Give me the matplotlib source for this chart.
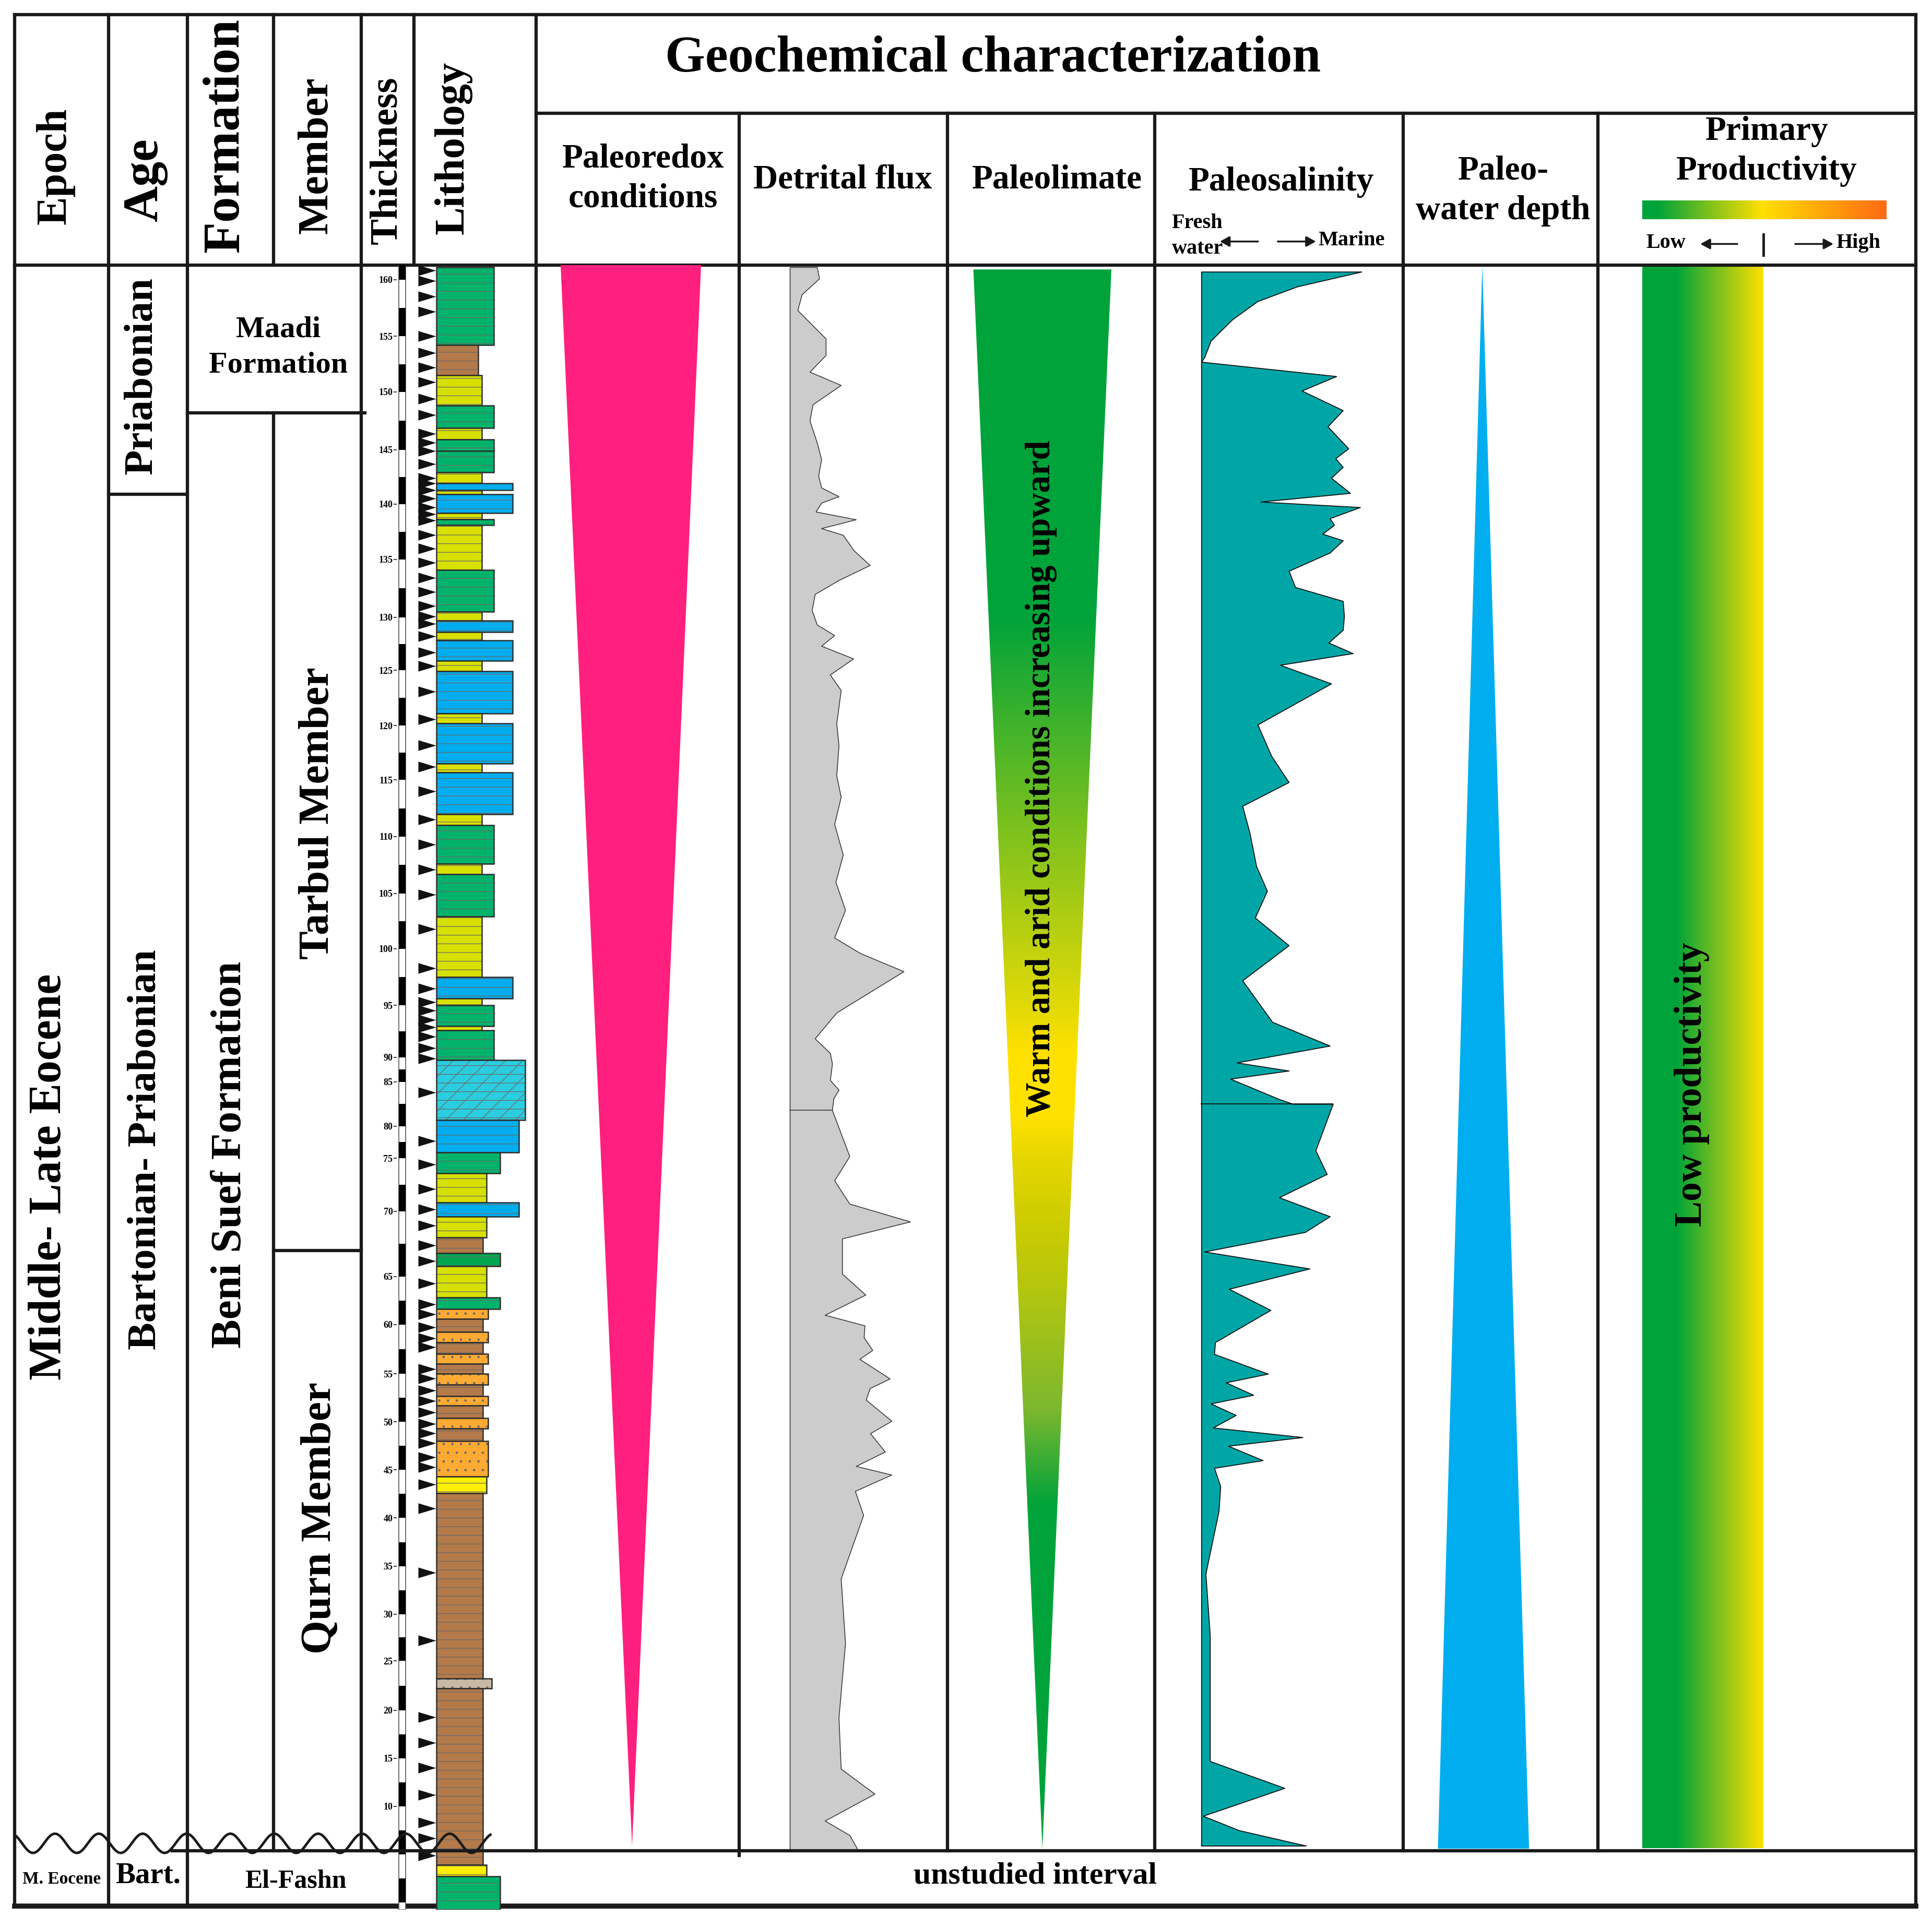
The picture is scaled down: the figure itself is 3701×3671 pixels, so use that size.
import numpy as np
import matplotlib
matplotlib.use('Agg')
import matplotlib.pyplot as plt
from matplotlib.colors import LinearSegmentedColormap
from matplotlib.patches import Polygon, Rectangle
from matplotlib.ticker import NullLocator

plt.rcParams['font.family'] = ['Liberation Serif', 'DejaVu Serif']
plt.rcParams['font.weight'] = 'bold'
plt.rcParams['hatch.linewidth'] = 0.9

# thickness scale of the log (m) and where it sits on the sheet (sheet units)
scale_depth = [-0.8, 0, 5, 10, 15, 20, 25, 30, 35, 40, 45, 50, 55, 60, 65, 70, 75, 80,
               85, 90, 95, 100, 105, 110, 115, 120, 125, 130, 135, 140, 145, 150, 155,
               160, 161.3]
scale_y = [1550, 1544, 1505, 1466, 1427, 1388, 1348, 1310, 1271, 1232, 1193, 1154, 1115,
           1075, 1036, 983, 940, 914, 878, 858, 816, 770, 725, 679, 633, 589, 544, 501,
           454, 409, 365, 318, 273, 227, 215]
tick_depth = list(range(10, 161, 5))

# lithology beds (m)
bed_top = [161.1, 154.2, 151.5, 148.8, 146.9, 145.9, 144.9, 142.9, 141.9, 141.3, 140.9,
           139.2, 138.6, 138.1, 134.1, 130.5, 129.7, 128.6, 127.8, 125.9, 124.9, 121.1,
           120.2, 116.5, 115.7, 112.0, 111.0, 107.6, 106.7, 102.9, 97.5, 95.6, 95.0, 93.0,
           92.6, 89.4, 80.7, 75.9, 73.6, 70.8, 69.6, 68.0, 66.8, 65.8, 62.8, 61.6, 60.6,
           59.25, 58.2, 57.0, 56.0, 55.0, 53.9, 52.7, 51.7, 50.4, 49.3, 48.0, 44.3, 42.6,
           23.2, 22.2, 3.9, 2.7]
bed_base = bed_top[1:] + [-0.8]
bed_litho = ['lst', 'sh', 'marl', 'lst', 'marl', 'lst', 'lst', 'marl', 'blst', 'marl',
             'blst', 'marl', 'lst', 'marl', 'lst', 'marl', 'blst', 'marl', 'blst', 'marl',
             'blst', 'marl', 'blst', 'marl', 'blst', 'marl', 'lst', 'marl', 'lst', 'marl',
             'blst', 'marl', 'lst', 'marl', 'lst', 'dol', 'blst', 'lst', 'marl', 'blst',
             'marl', 'sh', 'dlst', 'marl', 'lst', 'ss', 'sh', 'ss', 'sh', 'ss', 'sh', 'ss',
             'sh', 'ss', 'sh', 'ss', 'sh', 'ss', 'ymarl', 'sh', 'gyp', 'sh', 'ymarl', 'lst']
bed_width = [47, 34, 37, 47, 37, 47, 47, 37, 62, 37, 62, 37, 47, 37, 47, 37, 62, 37, 62, 37,
             62, 37, 62, 37, 62, 37, 47, 37, 47, 37, 62, 37, 47, 37, 47,
             72, 67, 52, 41, 67, 41, 38, 52, 41, 52, 42, 38, 42, 38, 42, 38, 42, 38, 42,
             38, 42, 38, 42, 41, 38, 45, 38, 41, 52]

sample_depth = [160.8, 159.9, 158.5, 157.2, 155.0, 153.5, 152.2, 150.9, 149.4, 148.0, 146.4,
                145.6, 144.9, 143.7, 142.4, 141.9, 141.3, 140.5, 139.7, 139.1, 138.5, 137.2,
                136.0, 134.7, 133.4, 132.2, 131.0, 130.1, 129.4, 128.2, 126.7, 125.4, 123.1,
                120.6, 118.2, 116.2, 114.0, 111.5, 109.3, 107.1, 104.9, 101.8, 98.3, 96.5,
                95.3, 94.5, 93.6, 92.9, 92.0, 90.9, 89.75, 83.8, 77.7, 74.4, 72.1, 70.2,
                68.9, 67.4, 66.2, 64.3, 62.1, 61.1, 59.75, 58.6, 57.7, 55.5, 54.5, 53.3,
                52.2, 51.0, 49.8, 48.8, 47.8, 46.3, 45.3, 43.5, 41.0, 34.3, 27.2, 19.3,
                16.6, 14.0, 11.2, 8.3, 6.7, 4.9]

# detrital flux profile (relative index)
det_depth = [161.1, 160.1, 158.7, 157.3, 154.8, 153.3, 151.8, 150.6, 148.9, 147.5, 145.6,
             144.1, 142.6, 141.5, 140.7, 140.1, 139.3, 138.6, 137.8, 137.2, 135.8, 134.5,
             133.2, 132.0, 130.6, 129.3, 128.3, 127.3, 126.1, 124.6, 123.2, 120.2, 118.2,
             115.4, 113.5, 111.1, 108.4, 106.0, 103.5, 101.0, 99.6, 98.0, 94.3, 91.8, 90.4,
             88.7, 85.35, 84.1, 83.1, 81.8,
             75.3, 72.9, 70.7, 69.2, 67.9, 65.2, 63.1, 61.0, 59.9, 58.7, 57.4, 56.5, 54.5,
             53.5, 52.3, 50.1, 48.8, 46.9, 45.4, 44.5, 42.8, 40.3, 33.7, 26.9, 19.2, 13.9,
             11.3, 8.5, 7.0, 5.4]
det_value = [22.1, 23.9, 9.8, 6.3, 29.2, 29.2, 16.2, 41.5, 18.6, 16.2, 22.1, 25.6, 23.2,
             25.6, 39.7, 25.6, 21.1, 53.7, 25.6, 43.2, 52.0, 65.0, 39.7, 20.4, 17.9, 22.1,
             36.2, 25.6, 51.6, 32.7, 41.5, 37.9, 39.7, 37.9, 41.5, 36.2, 43.2, 37.2, 45.0,
             36.2, 57.3, 92.4, 37.9, 20.4, 32.7, 34.4, 32.7, 39.7, 35.5, 34.4,
             48.5, 36.2, 48.5, 97.7, 42.5, 42.5, 61.5, 28.5, 60.8, 60.1, 67.1, 56.6, 81.2,
             65.0, 61.8, 82.6, 65.3, 77.3, 53.7, 82.6, 53.0, 59.7, 41.5, 45.0, 39.7, 41.5,
             68.9, 28.5, 48.5, 55.5]
det_break = 81.8

# paleosalinity profile (relative index, fresh water -> marine)
sal_depth = [160.7, 159.4, 158.1, 156.5, 154.6, 153.1, 152.7, 151.4, 150.1, 148.4, 147.0,
             145.1, 144.2, 143.4, 142.4, 141.0, 140.2, 139.7, 138.7, 138.1, 137.3, 136.7,
             135.6, 134.0, 132.6, 131.4, 130.1, 128.8, 127.6, 126.6, 125.5, 123.8, 120.1,
             117.2, 114.8, 112.7, 110.3, 107.4, 105.2, 102.8, 100.3, 97.2, 93.4, 91.1, 88.9,
             87.25, 85.6, 83.0, 82.5,
             82.5, 76.2, 73.5, 71.3, 69.6, 68.4, 66.9, 65.6, 63.7, 61.5, 58.2, 57.0, 55.0,
             54.1, 52.8, 51.9, 50.7, 49.4, 48.4, 47.5, 46.0, 45.2, 43.3, 40.7, 34.2, 27.7,
             14.7, 11.9, 9.0, 7.5, 5.9]
sal_value = [130.0, 78.0, 45.7, 25.3, 7.7, 2.5, 0.0, 109.6, 81.5, 114.9, 102.6, 119.4, 108.9,
             114.9, 105.4, 120.8, 48.1, 128.9, 104.3, 107.8, 98.4, 114.9, 104.3, 71.0, 76.2,
             114.9, 115.9, 114.9, 103.3, 123.0, 63.9, 105.4, 45.7, 56.9, 71.0, 33.4, 39.3,
             44.6, 53.4, 43.6, 71.0, 33.4, 57.6, 104.3, 28.8, 71.0, 23.5, 63.9, 74.5,
             106.8, 92.7, 101.9, 63.2, 104.3, 84.3, 2.5, 87.8, 22.5, 56.2, 11.2, 10.5, 54.1,
             20.0, 42.2, 7.7, 28.1, 9.5, 82.2, 21.8, 49.9, 10.5, 15.5, 14.1, 3.5, 7.0, 7.0,
             67.5, 1.4, 30.6, 85.0]
sal_break = 82.5

# paleoclimate colour stops along the section (m)
clim_depth = [5, 41.3, 51.3, 69.3, 81.0, 90.3, 130.0, 161.3]
clim_rgb = [(0, 163, 58), (0, 163, 58), (125, 184, 46), (205, 205, 0), (255, 225, 0),
            (255, 225, 0), (0, 163, 58), (0, 163, 58)]

litho_style = {
    'lst': ('#00B36B', '-'), 'dlst': ('#00A651', '-'), 'blst': ('#00AEEF', '-'),
    'marl': ('#D8E000', '-'), 'ymarl': ('#FFEF00', '-'), 'sh': ('#B47A4A', '-'),
    'dol': ('#2BCDE0', '/-'), 'ss': ('#FFAA33', '.'), 'gyp': ('#C8B9A5', '.'),
}


def to_sheet(d):
    return -np.interp(d, scale_depth, scale_y)


def from_sheet(t):
    return np.interp(-np.asarray(t), scale_y[::-1], scale_depth[::-1])


W, H = 1568, 1555
fig = plt.figure(figsize=(37.01, 36.71), dpi=100)
ax = fig.add_axes([0, 0, 1, 1])
ax.set_xlim(0, W)
ax.set_ylim(H, 0)
ax.axis('off')

ax_d = fig.add_axes([0, (H - 1550) / H, 1, (1550 - 215) / H])
ax_d.patch.set_visible(False)
ax_d.set_yscale('function', functions=(to_sheet, from_sheet))
for s in ax_d.spines.values():
    s.set_visible(False)
ax_d.spines['left'].set_position(('data', 322))
ax_d.set_xticks([])

# frame
lw = 4.5
for y, x0, x1 in [(12, 12, 1555), (215, 12, 1555), (92, 435, 1555), (401, 88, 152),
                  (335, 152, 296), (1015, 222, 293)]:
    ax.plot([x0, x1], [y, y], color='#1a1a1a', lw=lw, solid_capstyle='projecting')
ax.plot([12, 1555], [1547, 1547], color='#1a1a1a', lw=7, solid_capstyle='projecting')
for x, y0, y1 in [(12, 12, 1547), (88, 12, 1547), (152, 12, 1547), (222, 12, 215),
                  (222, 335, 1502), (293, 12, 1502), (336, 12, 215), (435, 12, 1502),
                  (600, 92, 1506), (769, 92, 1502), (937, 92, 1502), (1139, 92, 1502),
                  (1297, 92, 1502), (1555, 12, 1547)]:
    ax.plot([x, x], [y0, y1], color='#1a1a1a', lw=lw, solid_capstyle='projecting')

txt = dict(ha='center', va='center', fontweight='bold', color='black')
ax.text(806, 48, 'Geochemical characterization', fontsize=71, **txt)
for x, y, s, fs in [(45, 135, 'Epoch', 59), (118, 146, 'Age', 69), (183, 110, 'Formation', 71),
                    (257, 126, 'Member', 59), (314, 130, 'Thickness', 54),
                    (368, 120, 'Lithology', 58)]:
    ax.text(x, y, s, fontsize=fs, rotation=90, **txt)
ax.text(522, 145, 'Paleoredox\nconditions', fontsize=47, linespacing=1.35, **txt)
ax.text(684, 146, 'Detrital flux', fontsize=47, **txt)
ax.text(858, 146, 'Paleolimate', fontsize=47, **txt)
ax.text(1040, 148, 'Paleosalinity', fontsize=47, **txt)
ax.text(1220, 155, 'Paleo-\nwater depth', fontsize=47, linespacing=1.35, **txt)
ax.text(1434, 123, 'Primary\nProductivity', fontsize=47, linespacing=1.35, **txt)

small = dict(fontsize=29, fontweight='bold', va='center', ha='left')
ax.text(951, 181, 'Fresh', **small)
ax.text(951, 202, 'water', **small)
ax.text(1070, 195, 'Marine', **small)
ax.text(1336, 197, 'Low', **small)
ax.text(1490, 197, 'High', **small)
arr = dict(arrowstyle='-|>,head_length=0.55,head_width=0.3', color='#1a1a1a', lw=2.5,
           mutation_scale=20, shrinkA=0, shrinkB=0)
for xs, xe, y in [(1021, 990, 196), (1037, 1068, 196), (1410, 1380, 198), (1457, 1488, 198)]:
    ax.annotate('', xy=(xe, y), xytext=(xs, y), arrowprops=arr)
ax.plot([1431, 1431], [190, 207], color='#1a1a1a', lw=3.5)

green, yellow, orange = '#00A33A', '#FFE000', '#FF6A14'
bar_cmap = LinearSegmentedColormap.from_list('pp', [(0, green), (0.06, green), (0.49, yellow), (1, orange)])
ax.imshow(np.linspace(0, 1, 400)[None, :], cmap=bar_cmap, extent=[1333, 1531, 178, 163], aspect='auto')

# left stratigraphic columns
ax.text(40, 955, 'Middle- Late Eocene', fontsize=63, rotation=90, **txt)
ax.text(115, 305, 'Priabonian', fontsize=57, rotation=90, **txt)
ax.text(118, 933, 'Bartonian- Priabonian', fontsize=57, rotation=90, **txt)
ax.text(187, 937, 'Beni Suef Formation', fontsize=60, rotation=90, **txt)
ax.text(258, 660, 'Tarbul Member', fontsize=59, rotation=90, **txt)
ax.text(260, 1232, 'Qurn Member', fontsize=60, rotation=90, **txt)
ax.text(226, 282, 'Maadi\nFormation', fontsize=42, linespacing=1.4, **txt)
ax.text(50, 1525, 'M. Eocene', fontsize=24, **txt)
ax.text(120, 1522, 'Bart.', fontsize=41, **txt)
ax.text(240, 1527, 'El-Fashn', fontsize=36, **txt)
ax.text(840, 1523, 'unstudied interval', fontsize=43, **txt)

# thickness scale
ax_d.set_yticks(tick_depth)
ax_d.set_yticklabels([str(t) for t in tick_depth], fontsize=13, fontweight='bold')
ax_d.yaxis.set_minor_locator(NullLocator())
ax_d.tick_params(axis='y', length=4, width=1.2, pad=1.5, color='#1a1a1a')
ax_d.barh(-0.8, 5.5, height=162.1, left=323.5, align='edge', color='white',
          edgecolor='#555555', lw=1.2)
ax_d.barh(np.arange(0, 161, 5), 5.5, height=2.5, left=323.5, align='edge', color='black', lw=0)

# sample positions
tri = [(-1, -0.6), (1, 0), (-1, 0.6)]
ax_d.scatter(np.full(len(sample_depth), 346.5), sample_depth, marker=tri, s=600,
             color='#111111', lw=0, zorder=3)

# lithology log
for top, base, lith, w in zip(bed_top, bed_base, bed_litho, bed_width):
    fc, hatch = litho_style[lith]
    ax_d.barh(base, w, height=top - base, left=354, align='edge', color=fc,
              edgecolor='#6a6a6a', lw=0, hatch=hatch, zorder=2)
    ax_d.barh(base, w, height=top - base, left=354, align='edge', fill=False,
              edgecolor='#2e2e2e', lw=1.8, zorder=2)

# unconformity
xw = np.linspace(12, 398, 900)
ax_d.plot(xw, 1496 - 7.8 * np.cos(2 * np.pi * (xw - 44.6) / 35.6), transform=ax.transData,
          color='#1a1a1a', lw=3.5, zorder=5, clip_on=False)
ax_d.plot([140, 1555], [1502, 1502], transform=ax.transData, color='#1a1a1a', lw=lw,
          zorder=4, clip_on=False)

# paleoredox wedge
ax_d.fill([455, 569, 513], [161.3, 161.3, 5.9], color='#FF1F7E', lw=0)
ax.text(513, 660, 'Oxygen levels incrasing upward', fontsize=56, rotation=90, **txt)

# detrital flux
ax_d.fill_betweenx(det_depth, 641, 641 + np.array(det_value), facecolor='#CCCCCC',
                   edgecolor='#333333', lw=1.1)
ax_d.plot([641, 641 + det_value[det_depth.index(det_break)]], [det_break, det_break],
          color='#333333', lw=1.1)

# paleoclimate wedge with gradient along the section
clim_patch = Polygon([(790, 160.9), (902, 160.9), (846, 5.6)], closed=True,
                     facecolor='none', edgecolor='none', transform=ax_d.transData)
ax_d.add_patch(clim_patch)
rows = np.linspace(215, 1502, 700)
row_depth = from_sheet(-rows)
crgb = np.array(clim_rgb) / 255.0
grad = np.stack([np.interp(row_depth, clim_depth, crgb[:, i]) for i in range(3)], axis=-1)
im = ax.imshow(np.repeat(grad[:, None, :], 4, axis=1), extent=[785, 907, 1502, 215],
               aspect='auto', interpolation='bilinear')
im.set_clip_path(clim_patch)
ax.text(845, 632, 'Warm and arid conditions increasing upward', fontsize=48, rotation=90, **txt)

# paleosalinity
ax_d.fill_betweenx(sal_depth, 975, 975 + np.array(sal_value), facecolor='#00A6A6',
                   edgecolor='#111111', lw=1.3)
ax_d.plot([975, 975 + 106.8], [sal_break, sal_break], color='#111111', lw=1.3)

# paleo-water depth
ax_d.fill([1203, 1167, 1241], [161.3, 5.6, 5.6], color='#00AEEF', lw=0)
ax.text(1197, 1250, 'Water depth decreaseing upward', fontsize=48, rotation=90, **txt)

# primary productivity
pp_patch = Rectangle((1333, 5.65), 98, 161.3 - 5.65, facecolor='none', edgecolor='none',
                     transform=ax_d.transData)
ax_d.add_patch(pp_patch)
body_cmap = LinearSegmentedColormap.from_list('ppb', [(0, green), (0.28, green), (1, yellow)])
im2 = ax.imshow(np.linspace(0, 1, 300)[None, :], cmap=body_cmap, extent=[1333, 1431, 1502, 215],
                aspect='auto')
im2.set_clip_path(pp_patch)
ax.text(1373, 880, 'Low productivity', fontsize=53, rotation=90, **txt)

ax.set_xlim(0, W)
ax.set_ylim(H, 0)
ax_d.set_xlim(0, W)
ax_d.set_ylim(-0.8, 161.3)

fig.savefig('out.png', dpi=100, facecolor='white')
